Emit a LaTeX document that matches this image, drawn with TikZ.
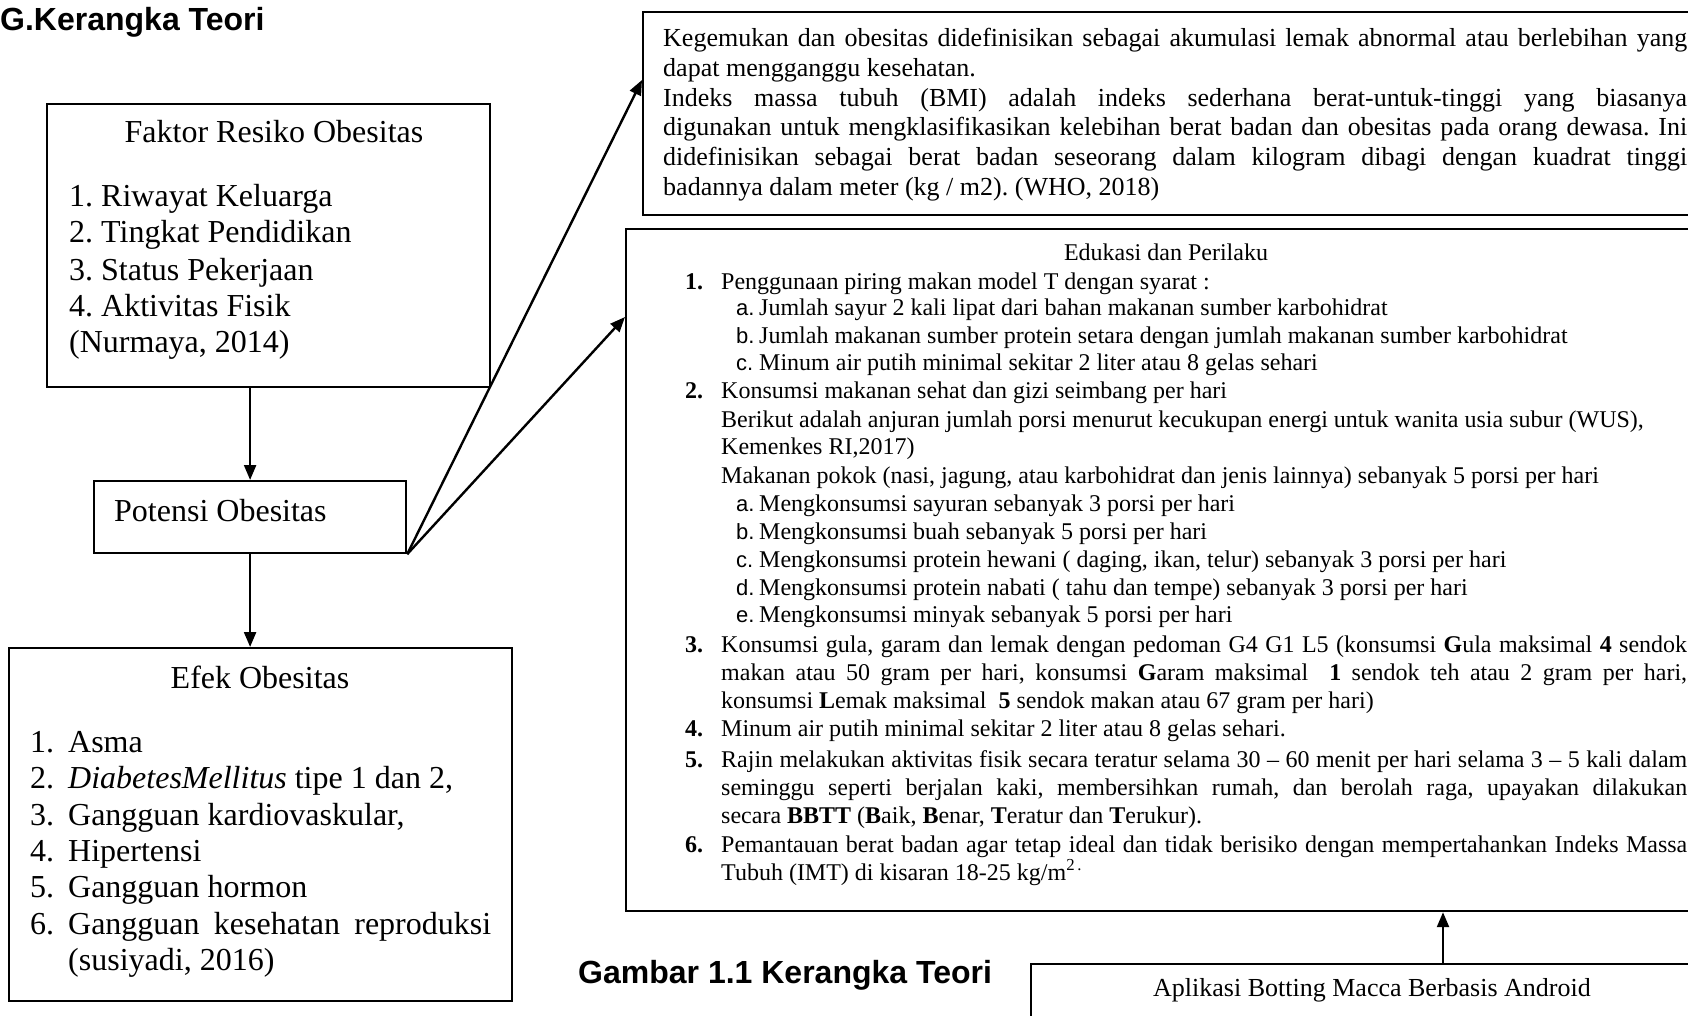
\documentclass[tikz,border=0pt]{standalone}
\usepackage{fontspec}
\setmainfont{Liberation Serif}
\newfontfamily\arialf{Liberation Sans}
\usetikzlibrary{arrows.meta}
\frenchspacing
\begin{document}
\begin{tikzpicture}[x=1pt,y=-1pt,
  box/.style={draw, line width=2.2pt, inner sep=0pt, anchor=north west},
  arr/.style={line width=2.4pt, -{Triangle[length=15pt,width=12pt]}},
  tl/.style={anchor=base west, inner sep=0pt, font=\fontsize{32}{36}\selectfont},
  wl/.style={anchor=base west, inner sep=0pt, font=\fontsize{26}{30}\selectfont},
  el/.style={anchor=base west, inner sep=0pt, font=\fontsize{24}{28}\selectfont},
  hd/.style={anchor=base west, inner sep=0pt, font=\arialf\bfseries\fontsize{32}{36}\selectfont},
]
\useasboundingbox (0,0) rectangle (1688,1016);
\clip (0,0) rectangle (1688,1016);
\newcommand\subl[1]{\makebox[23pt][l]{\arialf\fontsize{22}{28}\selectfont #1}}

% headings
\node[hd] (title) at (0,31) {G.Kerangka Teori};
\node[hd] (caption) at (578,983) {Gambar 1.1 Kerangka Teori};

% boxes
\node[box, minimum width=443pt, minimum height=283pt] (fak) at (46,103) {};
\node[box, minimum width=312pt, minimum height=72pt] (pot) at (93,480) {};
\node[box, minimum width=503pt, minimum height=353pt] (efek) at (8,647) {};
\node[box, minimum width=1080pt, minimum height=203pt] (who) at (642,11) {};
\node[box, minimum width=1100pt, minimum height=682pt] (edu) at (625,228) {};
\node[box, minimum width=700pt, minimum height=90pt] (apl) at (1030,963) {};

% Faktor
\node[tl, anchor=base] (fak0) at (274,143) {Faktor Resiko Obesitas};
\node[tl] (fak1) at (69,207) {1. Riwayat Keluarga};
\node[tl] (fak2) at (69,243) {2. Tingkat Pendidikan};
\node[tl] (fak3) at (69,280) {3. Status Pekerjaan};
\node[tl] (fak4) at (69,316) {4. Aktivitas Fisik};
\node[tl] (fak5) at (69,352) {(Nurmaya, 2014)};

% Potensi
\node[tl] (pot0) at (114,521) {Potensi Obesitas};

% Efek
\node[tl, anchor=base] (ef0) at (260,688) {Efek Obesitas};
\node[tl] (ef1) at (30,752) {\makebox[38pt][l]{1.}Asma};
\node[tl] (ef2) at (30,788) {\makebox[38pt][l]{2.}\textit{DiabetesMellitus} tipe 1 dan 2,};
\node[tl] (ef3) at (30,825) {\makebox[38pt][l]{3.}Gangguan kardiovaskular,};
\node[tl] (ef4) at (30,861) {\makebox[38pt][l]{4.}Hipertensi};
\node[tl] (ef5) at (30,897) {\makebox[38pt][l]{5.}Gangguan hormon};
\node[tl] (ef6) at (30,934) {\makebox[38pt][l]{6.}\makebox[423pt][s]{Gangguan kesehatan reproduksi}};
\node[tl] (ef7) at (68,970) {(susiyadi, 2016)};

% WHO box
\node[wl] (w1) at (663,47) {\makebox[1024pt][s]{Kegemukan dan obesitas didefinisikan sebagai akumulasi lemak abnormal atau berlebihan yang}};
\node[wl] (w2) at (663,77) {dapat mengganggu kesehatan.};
\node[wl] (w3) at (663,106.5) {\makebox[1024pt][s]{Indeks massa tubuh (BMI) adalah indeks sederhana berat-untuk-tinggi yang biasanya}};
\node[wl] (w4) at (663,136) {\makebox[1024pt][s]{digunakan untuk mengklasifikasikan kelebihan berat badan dan obesitas pada orang dewasa. Ini}};
\node[wl] (w5) at (663,166) {\makebox[1024pt][s]{didefinisikan sebagai berat badan seseorang dalam kilogram dibagi dengan kuadrat tinggi}};
\node[wl] (w6) at (663,196) {badannya dalam meter (kg / m2). (WHO, 2018)};

% Edukasi box
\node[el, anchor=base] (e0) at (1166,261) {Edukasi dan Perilaku};
\node[el] (e1) at (685,289) {\makebox[36pt][l]{\textbf{1.}}Penggunaan piring makan model T dengan syarat :};
\node[el] (e1a) at (736,315) {\subl{a.}Jumlah sayur 2 kali lipat dari bahan makanan sumber karbohidrat};
\node[el] (e1b) at (736,343) {\subl{b.}Jumlah makanan sumber protein setara dengan jumlah makanan sumber karbohidrat};
\node[el] (e1c) at (736,370) {\subl{c.}Minum air putih minimal sekitar 2 liter atau 8 gelas sehari};
\node[el] (e2) at (685,398) {\makebox[36pt][l]{\textbf{2.}}Konsumsi makanan sehat dan gizi seimbang per hari};
\node[el] (e2x) at (721,427) {Berikut adalah anjuran jumlah porsi menurut kecukupan energi untuk wanita usia subur (WUS),};
\node[el] (e2y) at (721,454) {Kemenkes RI,2017)};
\node[el] (e2z) at (721,483) {Makanan pokok (nasi, jagung, atau karbohidrat dan jenis lainnya) sebanyak 5 porsi per hari};
\node[el] (e2a) at (736,511) {\subl{a.}Mengkonsumsi sayuran sebanyak 3 porsi per hari};
\node[el] (e2b) at (736,539) {\subl{b.}Mengkonsumsi buah sebanyak 5 porsi per hari};
\node[el] (e2c) at (736,567) {\subl{c.}Mengkonsumsi protein hewani ( daging, ikan, telur) sebanyak 3 porsi per hari};
\node[el] (e2d) at (736,595) {\subl{d.}Mengkonsumsi protein nabati ( tahu dan tempe) sebanyak 3 porsi per hari};
\node[el] (e2e) at (736,622) {\subl{e.}Mengkonsumsi minyak sebanyak 5 porsi per hari};
\node[el] (e3) at (685,652) {\makebox[36pt][l]{\textbf{3.}}\makebox[966pt][s]{Konsumsi gula, garam dan lemak dengan pedoman G4 G1 L5 (konsumsi \textbf{G}ula maksimal \textbf{4} sendok}};
\node[el] (e3b) at (721,680) {\makebox[966pt][s]{makan atau 50 gram per hari, konsumsi \textbf{G}aram maksimal~ \textbf{1} sendok teh atau 2 gram per hari,}};
\node[el] (e3c) at (721,708) {konsumsi \textbf{L}emak maksimal~ \textbf{5} sendok makan atau 67 gram per hari)};
\node[el] (e4) at (685,736) {\makebox[36pt][l]{\textbf{4.}}Minum air putih minimal sekitar 2 liter atau 8 gelas sehari.};
\node[el] (e5) at (685,767) {\makebox[36pt][l]{\textbf{5.}}\makebox[966pt][s]{Rajin melakukan aktivitas fisik secara teratur selama 30 – 60 menit per hari selama 3 – 5 kali dalam}};
\node[el] (e5b) at (721,795) {\makebox[966pt][s]{seminggu seperti berjalan kaki, membersihkan rumah, dan berolah raga, upayakan dilakukan}};
\node[el] (e5c) at (721,823) {secara \textbf{BBTT} (\textbf{B}aik, \textbf{B}enar, \textbf{T}eratur dan \textbf{T}erukur).};
\node[el] (e6) at (685,852) {\makebox[36pt][l]{\textbf{6.}}\makebox[966pt][s]{Pemantauan berat badan agar tetap ideal dan tidak berisiko dengan mempertahankan Indeks Massa}};
\node[el] (e6b) at (721,880) {Tubuh (IMT) di kisaran 18-25 kg/m\textsuperscript{2\,.}};

% Aplikasi
\node[wl] (apl0) at (1153,996) {Aplikasi Botting Macca Berbasis Android};

% connectors
\draw[arr] (pot.north |- fak.south) -- (pot.north);
\draw[arr] (pot.south) -- (pot.south |- efek.north);
\draw[arr] (pot.south east) -- ([yshift=-69pt]who.north west);
\draw[arr] (pot.south east) -- ([yshift=-89pt]edu.north west);
\draw[arr] ([xshift=413pt]apl.north west) -- ([xshift=413pt]apl.north west |- edu.south);
\end{tikzpicture}
\end{document}
